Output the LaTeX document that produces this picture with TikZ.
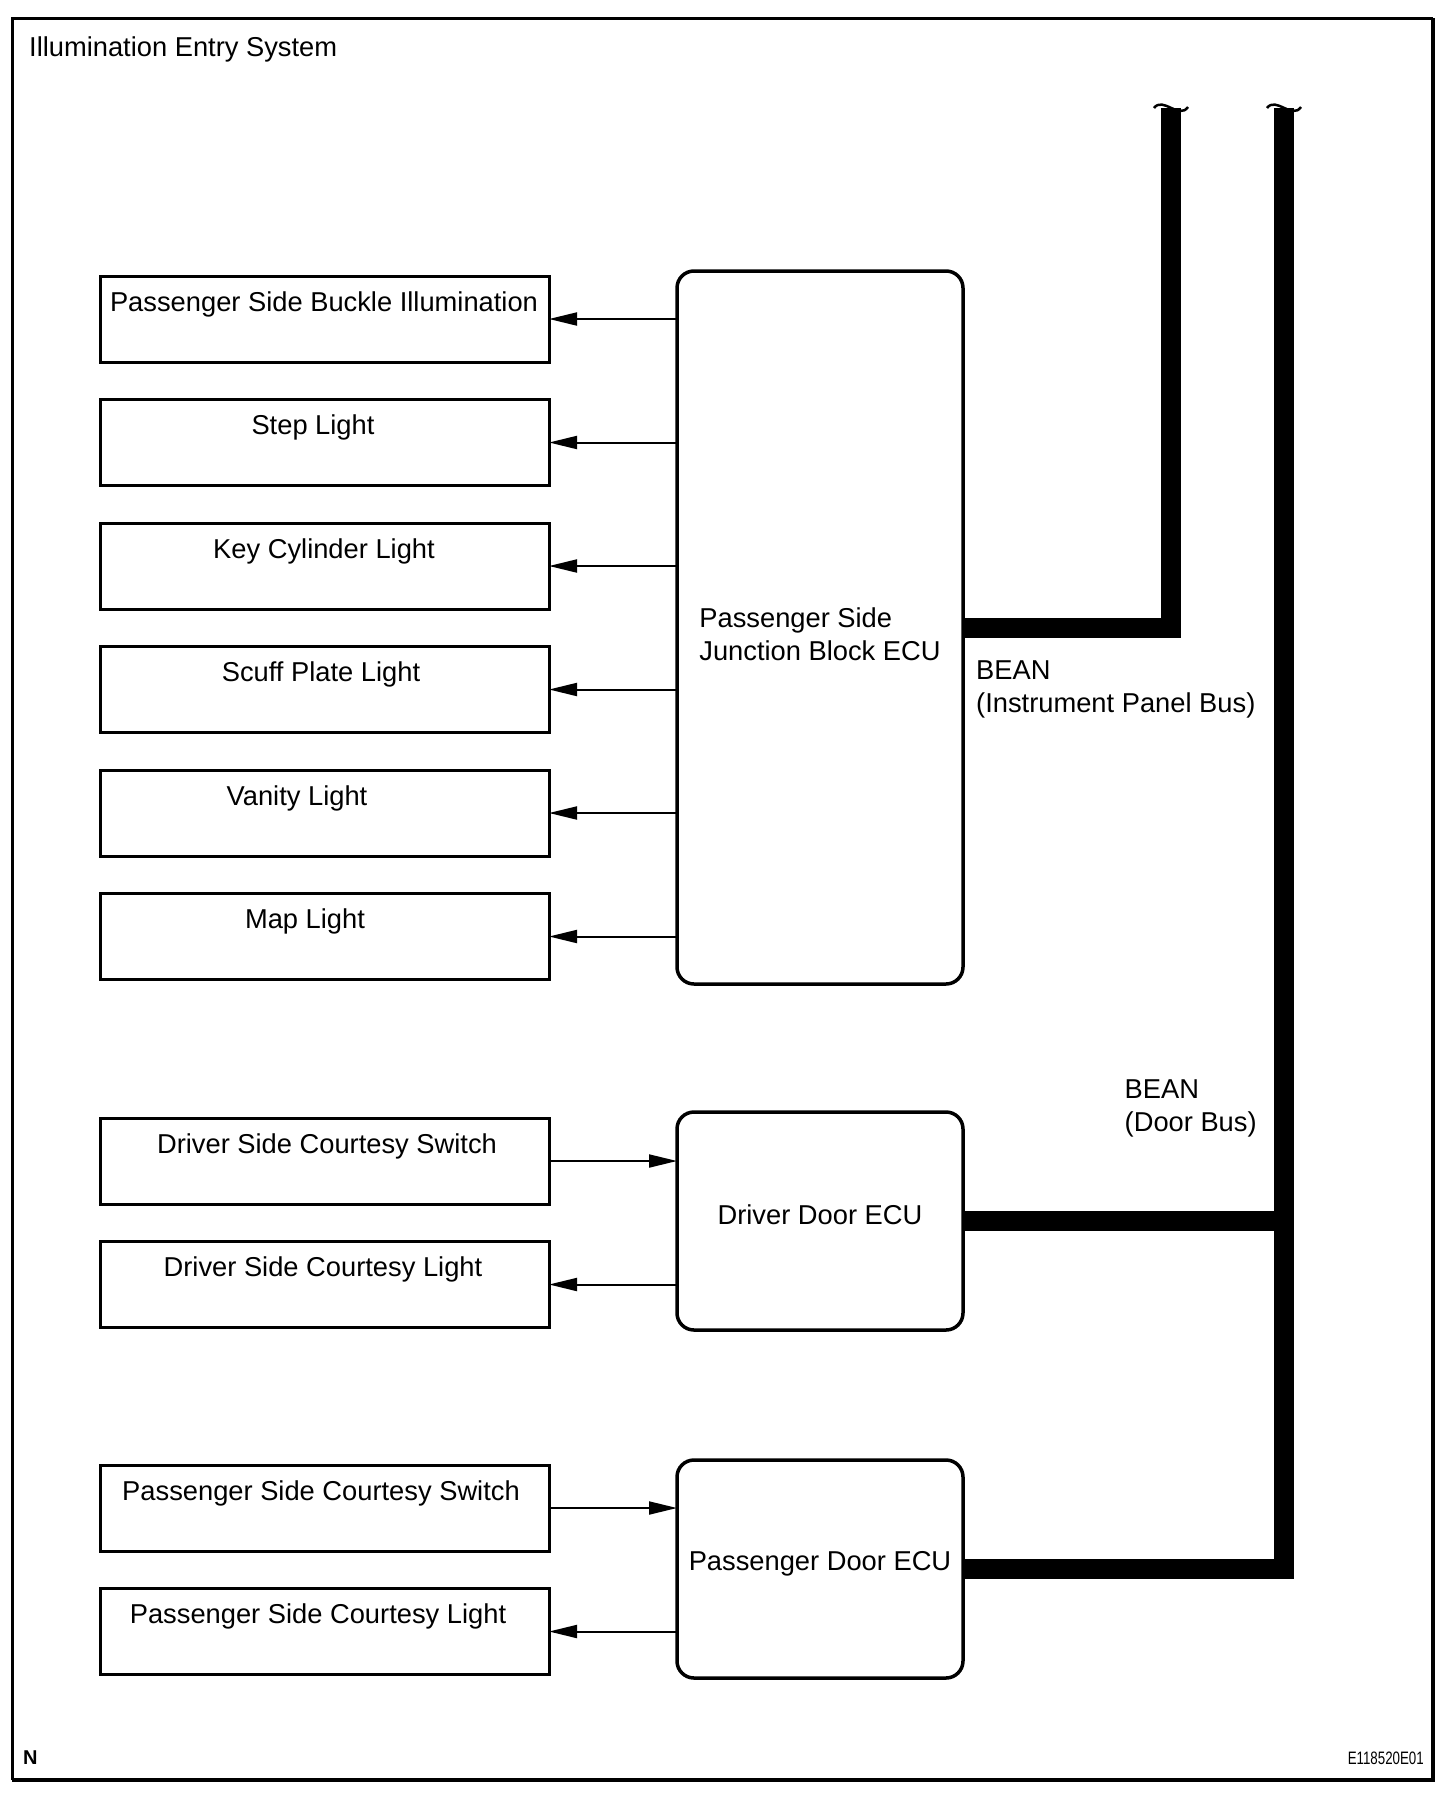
\documentclass[tikz,border=0pt]{standalone}
\usepackage{fontspec}
\setmainfont{Liberation Sans}
\usetikzlibrary{arrows.meta,positioning}
\tikzset{lbox/.style={rectangle, draw=black, line width=3pt, inner sep=0pt, outer sep=0pt, minimum width=449pt, minimum height=86pt}}
\tikzset{ecu/.style={rectangle, draw=black, line width=3.5pt, rounded corners=17pt, inner sep=0pt, outer sep=0pt, minimum width=286pt, minimum height=218pt, align=left}}
\tikzset{lbl/.style={inner sep=0pt, anchor=base}}
\tikzset{sig/.style={line width=2pt, -{Triangle[length=28pt,width=13pt]}}}
\tikzset{bus/.style={line width=20pt}}
\tikzset{busnote/.style={inner sep=0pt, anchor=north west, align=left}}

\begin{document}
\begin{tikzpicture}[x=1pt, y=-1pt, font=\fontsize{27.3pt}{33pt}\selectfont]
    \useasboundingbox (0,0) rectangle (1456,1794);
    % frame
    \draw[line width=3pt] (12,1780) -- (12,18) -- (1433,18);
    \draw[line width=4.5pt] (12,1780) -- (1433,1780) -- (1433,18);
    \node[inner sep=0pt, anchor=base west] (title) at (29,56) {Illumination Entry System};

    % lights fed by the junction block
    \node[lbox] (b1) at (324.5,319) {};
    \node[lbox,below=37.5pt of b1] (b2) {};
    \node[lbox,below=37.5pt of b2] (b3) {};
    \node[lbox,below=37.5pt of b3] (b4) {};
    \node[lbox,below=37.5pt of b4] (b5) {};
    \node[lbox,below=37.5pt of b5] (b6) {};

    % door side boxes
    \node[lbox,below=138.5pt of b6] (ds) {};
    \node[lbox,below=37.5pt of ds] (dl) {};
    \node[lbox,below=137.5pt of dl] (ps) {};
    \node[lbox,below=37.5pt of ps] (pl) {};

    \node[lbl] (t1) at ([xshift=-0.5pt,yshift=-35pt]b1.north) {Passenger Side Buckle Illumination};
    \node[lbl] (t2) at ([xshift=-11.5pt,yshift=-35pt]b2.north) {Step Light};
    \node[lbl] (t3) at ([xshift=-0.5pt,yshift=-35pt]b3.north) {Key Cylinder Light};
    \node[lbl] (t4) at ([xshift=-3.5pt,yshift=-35pt]b4.north) {Scuff Plate Light};
    \node[lbl] (t5) at ([xshift=-27.5pt,yshift=-35pt]b5.north) {Vanity Light};
    \node[lbl] (t6) at ([xshift=-19.5pt,yshift=-35pt]b6.north) {Map Light};
    \node[lbl] (t7) at ([xshift=2.5pt,yshift=-35pt]ds.north) {Driver Side Courtesy Switch};
    \node[lbl] (t8) at ([xshift=-1.5pt,yshift=-35pt]dl.north) {Driver Side Courtesy Light};
    \node[lbl] (t9) at ([xshift=-3.5pt,yshift=-35pt]ps.north) {Passenger Side Courtesy Switch};
    \node[lbl] (t10) at ([xshift=-6.5pt,yshift=-35pt]pl.north) {Passenger Side Courtesy Light};

    % ECUs
    \node[ecu, minimum height=713pt] (jb) at (820,627.5) {};
    \node[inner sep=0pt, align=left] (jbtext) at (820,634) {Passenger Side\\Junction Block ECU};
    \node[ecu, text depth=12pt] (dd) at (820,1221) {Driver Door ECU};
    \node[ecu, text depth=16pt] (pd) at (820,1569) {Passenger Door ECU};

    \draw[sig] (jb.west |- b1) -- (b1.east);
    \draw[sig] (jb.west |- b2) -- (b2.east);
    \draw[sig] (jb.west |- b3) -- (b3.east);
    \draw[sig] (jb.west |- b4) -- (b4.east);
    \draw[sig] (jb.west |- b5) -- (b5.east);
    \draw[sig] (jb.west |- b6) -- (b6.east);

    \draw[sig] (ds.east) -- (ds.east -| dd.west);
    \draw[sig] (dd.west |- dl) -- (dl.east);
    \draw[sig] (ps.east) -- (ps.east -| pd.west);
    \draw[sig] (pd.west |- pl) -- (pl.east);

    % BEAN buses
    \coordinate (ipend) at (1171,108);
    \coordinate (doorend) at (1284,108);
    \draw[bus] (jb.east) -| (ipend);
    \draw[bus] (pd.east) -| (doorend);
    \draw[bus] (dd.east) -- (dd.east -| doorend);
    \foreach \bx in {1171,1284}
        \draw[line width=2.5pt] (\bx-17,108) .. controls (\bx-8,96) and (\bx+8,120) .. (\bx+17,107);

    \node[busnote] (ipnote) at (976,661) {BEAN\\(Instrument Panel Bus)};
    \node[busnote] (doornote) at (1124.5,1079.5) {BEAN\\(Door Bus)};

    \node[inner sep=0pt, anchor=base west, font=\fontsize{20pt}{24pt}\selectfont\bfseries] (nmark) at (23,1764) {N};
    \node[inner sep=0pt, anchor=base east, font=\fontsize{18pt}{22pt}\selectfont] (figno) at (1424,1764) {\scalebox{0.74}[1]{E118520E01}};
\end{tikzpicture}
\end{document}
